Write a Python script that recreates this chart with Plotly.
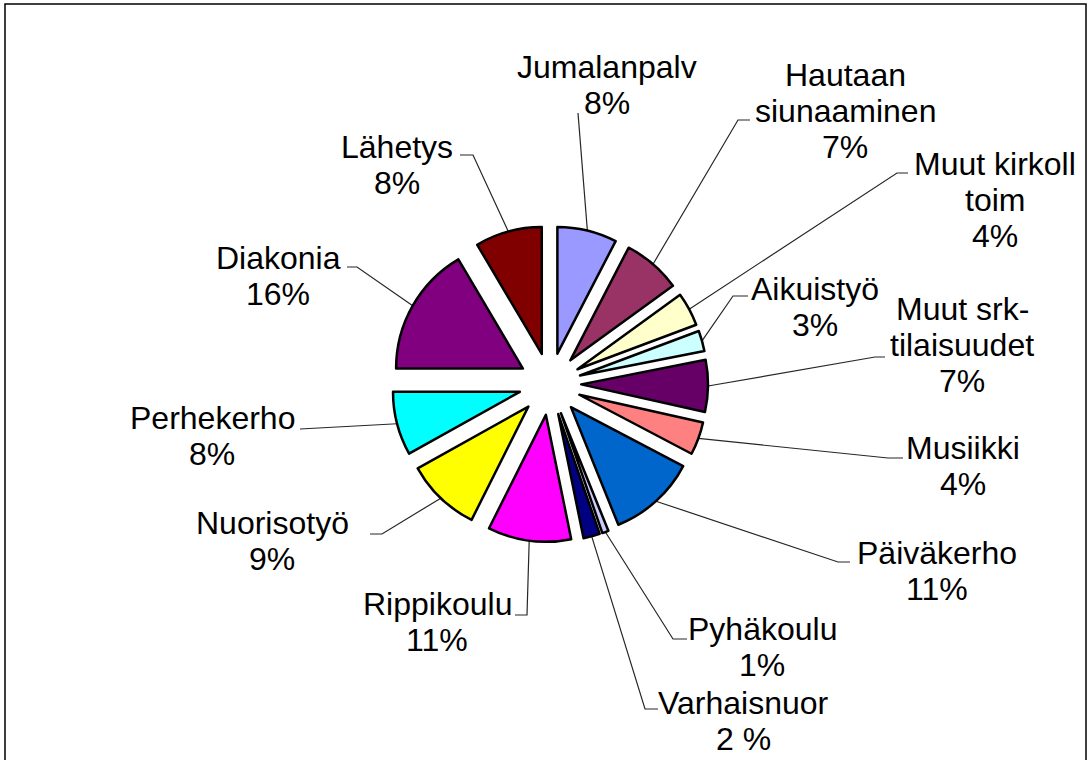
import math
import plotly.graph_objects as go

# ---------------- data ----------------
categories = ["Jumalanpalv", "Hautaan siunaaminen", "Muut kirkoll toim", "Aikuistyö",
              "Muut srk-tilaisuudet", "Musiikki", "Päiväkerho", "Pyhäkoulu",
              "Varhaisnuor", "Rippikoulu", "Nuorisotyö", "Perhekerho", "Diakonia", "Lähetys"]
values = [7.6, 7.4, 4.3, 2.6, 6.6, 4.2, 11.2, 0.8, 2.1, 10.6, 9.5, 8.1, 16.5, 8.5]
pct_labels = ["8%", "7%", "4%", "3%", "7%", "4%", "11%", "1%", "2 %", "11%", "9%", "8%", "16%", "8%"]
label_lines = [["Jumalanpalv"], ["Hautaan", "siunaaminen"], ["Muut kirkoll", "toim"], ["Aikuistyö"],
               ["Muut srk-", "tilaisuudet"], ["Musiikki"], ["Päiväkerho"], ["Pyhäkoulu"],
               ["Varhaisnuor"], ["Rippikoulu"], ["Nuorisotyö"], ["Perhekerho"], ["Diakonia"], ["Lähetys"]]
colors = ["#9999FF", "#993366", "#FFFFCC", "#CCFFFF", "#660066", "#FF8080", "#0066CC",
          "#CCCCFF", "#000080", "#FF00FF", "#FFFF00", "#00FFFF", "#800080", "#800000"]

# ---------------- layout (pixel positions) ----------------
W, H = 1092, 760
CX, CY = 550, 384          # pie centre
OUTER = 158                # radius incl. explosion
PULL = 0.246
FONT_SIZE = 32
LINE_GAP = 36
# label block centres
label_pos = [(607, 85), (845, 111), (995, 200), (815, 307), (962, 345), (963, 466),
             (937, 571), (762, 647), (743, 721), (437, 622), (272, 541), (212, 436),
             (278, 276), (397, 165)]
# leader line start (at label) and horizontal stub length
leader_start = [(578, 113), (750, 120), (908, 173), (748, 296), (885, 357), (903, 458),
                (850, 562), (687, 639), (658, 709), (515, 615), (370, 534), (300, 429),
                (347, 267), (460, 155)]
leader_stub = [0, -12, -11, -15, -10, -15, -12, -14, -13, 12, 12, 0, 10, 13]

# ---------------- leader lines from data angles ----------------
total = sum(values)
lx, ly = [], []
cum = 0.0
for i, v in enumerate(values):
    mid = (cum + v / 2) / total
    cum += v
    a = 2 * math.pi * mid
    ex = CX + OUTER * math.sin(a)
    ey = CY - OUTER * math.cos(a)
    sx, sy = leader_start[i]
    lx += [sx, sx + leader_stub[i], ex, None]
    ly += [sy, sy, ey, None]

fig = go.Figure()
fig.add_trace(go.Scatter(x=lx, y=ly, mode="lines", line=dict(color="#262626", width=1.2),
                         hoverinfo="skip", showlegend=False))
fig.add_trace(go.Pie(
    labels=categories, values=values, sort=False, direction="clockwise", rotation=0,
    pull=[PULL] * len(values), textinfo="none", hoverinfo="label+percent",
    marker=dict(colors=colors, line=dict(color="black", width=2.5)),
    domain=dict(x=[(CX - OUTER) / W, (CX + OUTER) / W],
                y=[(H - CY - OUTER) / H, (H - CY + OUTER) / H]),
    showlegend=False,
))

annotations = []
for i in range(len(categories)):
    lines = label_lines[i] + [pct_labels[i]]
    n = len(lines)
    cx, cy = label_pos[i]
    for k, t in enumerate(lines):
        annotations.append(dict(
            x=cx, y=cy + (k - (n - 1) / 2) * LINE_GAP, xref="x", yref="y", text=t,
            showarrow=False, xanchor="center", yanchor="middle",
            font=dict(family="Liberation Sans, Arial, sans-serif", size=FONT_SIZE, color="black")))

fig.update_layout(
    width=W, height=H, margin=dict(l=0, r=0, t=0, b=0),
    paper_bgcolor="white", plot_bgcolor="white",
    xaxis=dict(range=[0, W], visible=False, fixedrange=True),
    yaxis=dict(range=[H, 0], visible=False, fixedrange=True),
    annotations=annotations,
    shapes=[dict(type="rect", xref="x", yref="y", x0=5, y0=4, x1=1086, y1=820,
                 line=dict(color="black", width=1.5), fillcolor="rgba(0,0,0,0)")],
)

fig.write_html("out.html", config={"displayModeBar": False},
               post_script="document.body.style.margin='0px';")
